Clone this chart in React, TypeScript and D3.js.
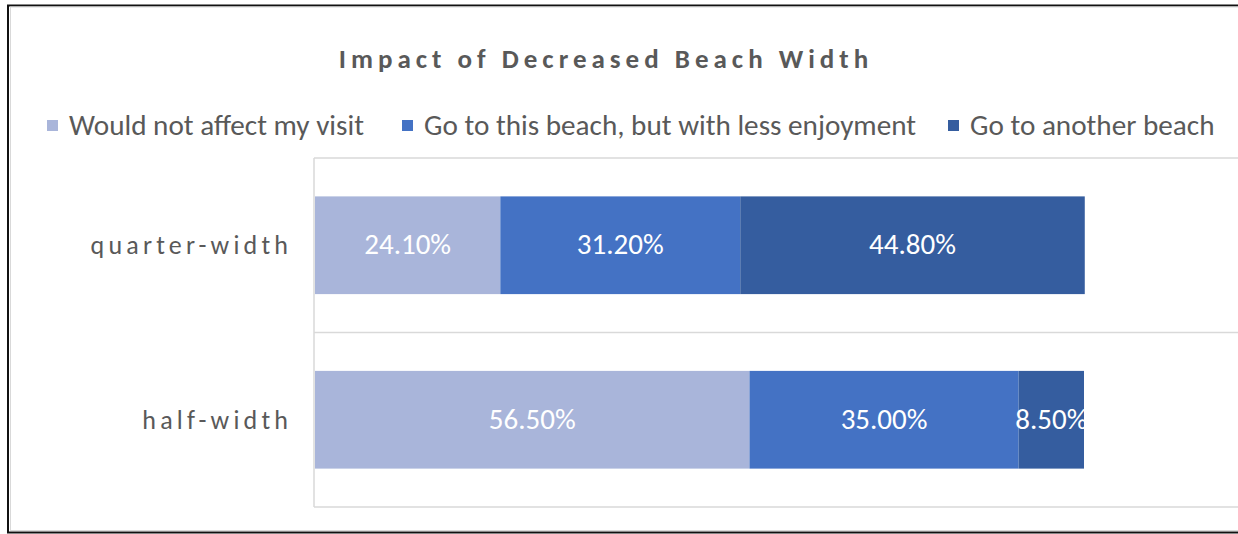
import React from "react";
import * as d3 from "d3";

const W = 1238;
const H = 534;

const CATEGORIES = ["quarter-width", "half-width"];
const SERIES = ["Would not affect my visit", "Go to this beach, but with less enjoyment", "Go to another beach"];
const COLORS = ["#a9b5da", "#4472c4", "#355d9f"];
const VALUES = [
  [24.1, 31.2, 44.8],
  [56.5, 35.0, 8.5],
];

const FONT = "Carlito, Lato, 'Liberation Sans', Arial, sans-serif";
const TEXT = "#595959";

export default function App() {
  const plotLeft = 315;
  const plotTop = 158;
  const plotBottom = 507;

  const x = d3.scaleLinear().domain([0, 100]).range([plotLeft, 1084]);
  const y = d3.scaleBand().domain(CATEGORIES).range([plotTop, plotBottom]).paddingInner(0).paddingOuter(0);
  const barPad = 0.44;
  const barH = y.bandwidth() * (1 - barPad);

  const rows = CATEGORIES.map((cat, i) => {
    let acc = 0;
    return SERIES.map((s, j) => {
      const v = VALUES[i][j];
      const seg = { cat, s, j, v, x0: acc, x1: acc + v };
      acc += v;
      return seg;
    });
  });

  const legendX = [47, 402, 948];
  const catSpacing = 4.2;

  return (
    <div style={{ position: "absolute", left: 0, top: 0 }}>
      <svg width={W} height={H} style={{ display: "block", background: "#fff" }}>
        <defs>
          <clipPath id="plotClip">
            <rect x={plotLeft} y={plotTop} width={x(100) - plotLeft + 1} height={plotBottom - plotTop} />
          </clipPath>
        </defs>
        {/* outer frame */}
        <rect x={8} y={5.5} width={W + 10} height={527} fill="#fff" stroke="#111" strokeWidth={2} />
        <rect x={10.5} y={7} width={W} height={523.5} fill="none" stroke="#d9d9d9" strokeWidth={1} />

        <text
          x={606}
          y={68}
          textAnchor="middle"
          fontFamily={FONT}
          fontSize={27}
          fontWeight="bold"
          letterSpacing={5}
          fill={TEXT}
        >
          Impact of Decreased Beach Width
        </text>

        {/* legend */}
        {SERIES.map((s, j) => (
          <g key={s} transform={`translate(${legendX[j]},0)`}>
            <rect x={0} y={120} width={11} height={11} fill={COLORS[j]} />
            <text x={22} y={135} fontFamily={FONT} fontSize={29.2} fill={TEXT}>
              {s}
            </text>
          </g>
        ))}

        {/* category separators */}
        {[plotTop, plotTop + y.step(), plotBottom].map((yy, i) => (
          <line key={i} x1={plotLeft - 1} x2={W} y1={yy} y2={yy} stroke="#d9d9d9" strokeWidth={1.5} />
        ))}
        <line x1={plotLeft - 1} x2={plotLeft - 1} y1={plotTop} y2={plotBottom} stroke="#d9d9d9" strokeWidth={1.5} />

        {rows.map((segs, i) => {
          const cat = CATEGORIES[i];
          const by = (y(cat) as number) + (y.bandwidth() - barH) / 2;
          return (
            <g key={cat}>
              <text
                x={288 + catSpacing}
                y={(y(cat) as number) + y.bandwidth() / 2 + 9}
                textAnchor="end"
                fontFamily={FONT}
                fontSize={26}
                letterSpacing={catSpacing}
                fill={TEXT}
              >
                {cat}
              </text>
              {segs.map((d) => (
                <rect key={d.s} x={x(d.x0)} y={by} width={x(d.x1) - x(d.x0)} height={barH} fill={COLORS[d.j]} />
              ))}
              <g clipPath="url(#plotClip)">
                {segs.map((d) => (
                  <text
                    key={d.s + "l"}
                    x={(x(d.x0) + x(d.x1)) / 2}
                    y={by + barH / 2 + 9}
                    textAnchor="middle"
                    fontFamily={FONT}
                    fontSize={29}
                    fill="#fff"
                  >
                    {d.v.toFixed(2) + "%"}
                  </text>
                ))}
              </g>
            </g>
          );
        })}
      </svg>
    </div>
  );
}
